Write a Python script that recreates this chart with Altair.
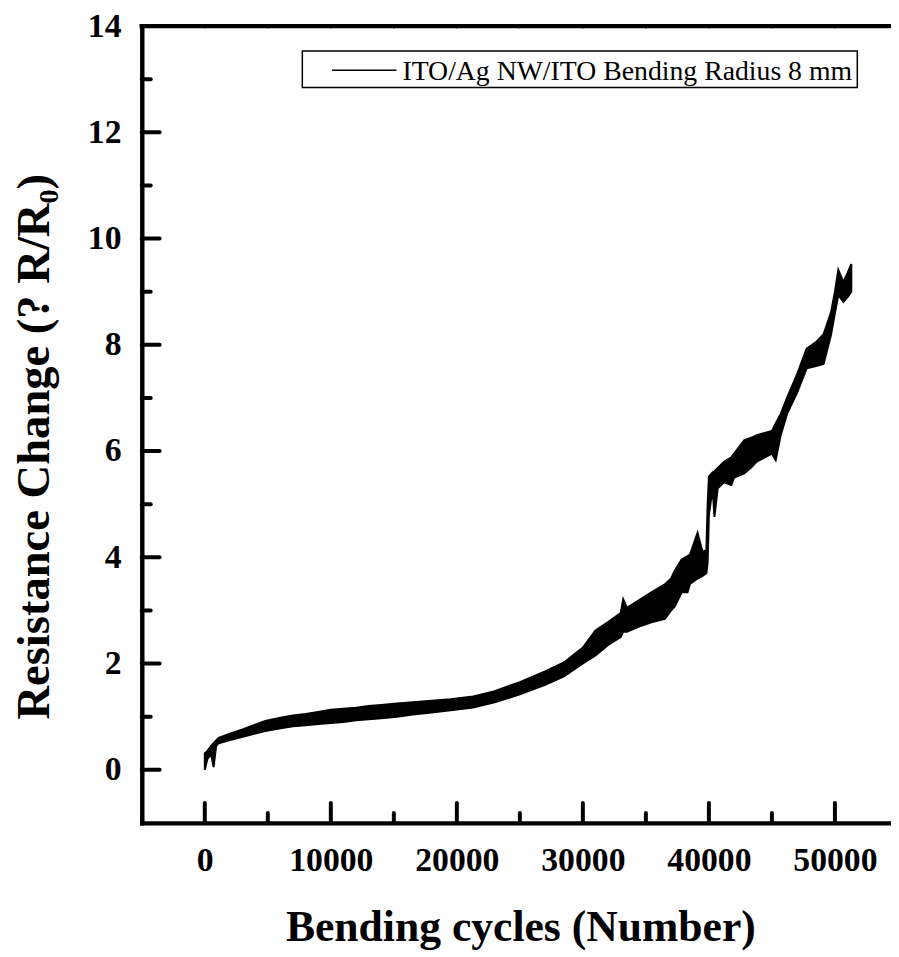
import altair as alt
import pandas as pd

# ---- data (upper / lower envelope of the noisy trace) ----
cycles = [0, 200, 500, 700, 900, 1100, 2000, 3000, 4000, 4800, 6000, 7000, 8000, 9000,
          10000, 11000, 12000, 13000, 14000, 15260, 16500, 18000, 19500, 21300, 23000,
          25000, 27000, 28500, 30000, 31000, 32000, 33000, 33200, 33500, 34500, 35500,
          36500, 37000, 37300, 37840, 38300, 38500, 39100, 39500, 39800, 39900, 40000,
          40300, 40440, 40700, 41200, 41780, 42000, 42800, 43350, 43800, 45000, 45300,
          45700, 46200, 47000, 47760, 48500, 49100, 49700, 50000, 50270, 50670, 51000,
          51300]
upper = [0.31, 0.35, 0.45, 0.50, 0.55, 0.60, 0.68, 0.76, 0.85, 0.92, 0.98, 1.02, 1.05, 1.09,
         1.13, 1.15, 1.17, 1.20, 1.22, 1.25, 1.27, 1.30, 1.33, 1.38, 1.48,
         1.65, 1.85, 2.02, 2.30, 2.62, 2.78, 2.95, 3.21, 3.05, 3.20, 3.35,
         3.49, 3.60, 3.75, 3.96, 4.02, 4.05, 4.46, 4.10, 4.14, 5.00, 5.52,
         5.60, 5.62, 5.68, 5.80, 5.88, 5.95, 6.20, 6.25, 6.30, 6.38, 6.52,
         6.70, 7.00, 7.45, 7.93, 8.05, 8.20, 8.62, 9.00, 9.41, 9.18, 9.35,
         9.52]
lower = [0.00, 0.20, 0.30, 0.05, 0.45, 0.50, 0.56, 0.62, 0.68, 0.73, 0.78, 0.82, 0.84, 0.86,
         0.88, 0.90, 0.93, 0.95, 0.97, 1.00, 1.04, 1.08, 1.12, 1.17, 1.27,
         1.42, 1.60, 1.76, 2.00, 2.15, 2.35, 2.50, 2.60, 2.60, 2.70, 2.78,
         2.84, 3.00, 3.08, 3.34, 3.34, 3.50, 3.60, 3.65, 3.70, 3.90, 4.80,
         5.30, 4.76, 5.30, 5.41, 5.36, 5.50, 5.58, 5.69, 5.80, 5.95, 5.83,
         6.30, 6.70, 7.10, 7.56, 7.60, 7.64, 8.20, 8.60, 8.94, 8.81, 8.90,
         9.00]

x_major = [0, 10000, 20000, 30000, 40000, 50000]
x_minor = [5000, 15000, 25000, 35000, 45000]
y_major = [0, 2, 4, 6, 8, 10, 12, 14]
y_minor = [1, 3, 5, 7, 9, 11, 13]
top_ticks = [0, 5000, 10000, 15000, 20000, 25000, 30000, 35000, 40000, 45000, 50000]
legend_label = ["ITO/Ag NW/ITO Bending Radius 8 mm"]

W, H = 756, 804
FONT = "Liberation Serif"
xs = alt.Scale(domain=[-5000, 54450], nice=False, zero=False)
ys = alt.Scale(domain=[-1, 14], nice=False, zero=False)

x_axis = alt.Axis(values=x_major, format="d", title="Bending cycles (Number)",
                  titleX=382, titleY=119, titleAngle=0, titleAlign="center",
                  titleBaseline="alphabetic", titleFontSize=44)
y_axis = alt.Axis(values=y_major, format="d", title="Resistance Change (? R/R\u2080)",
                  titleX=-94, titleY=424, titleAngle=270, titleAlign="center",
                  titleBaseline="alphabetic", titleFontSize=47)

df = pd.DataFrame({"cycles": cycles, "upper": upper, "lower": lower})

band = alt.Chart(df).mark_area(color="black", stroke="black", strokeWidth=2,
                               interpolate="linear").encode(
    x=alt.X("cycles:Q", scale=xs, axis=x_axis),
    y=alt.Y("upper:Q", scale=ys, axis=y_axis),
    y2="lower:Q",
)

def xticks(vals, length):
    return alt.Chart(pd.DataFrame({"cycles": vals})).mark_rule(
        color="black", strokeWidth=4, strokeCap="round").encode(
        x=alt.X("cycles:Q", scale=xs, axis=x_axis),
        y=alt.value(H), y2=alt.value(H - length))

def yticks(vals, length):
    return alt.Chart(pd.DataFrame({"upper": vals})).mark_rule(
        color="black", strokeWidth=4, strokeCap="round").encode(
        y=alt.Y("upper:Q", scale=ys, axis=y_axis),
        x=alt.value(0), x2=alt.value(length))

top_border = alt.Chart(pd.DataFrame({"v": [0]})).mark_rule(
    color="black", strokeWidth=4.5, strokeCap="square").encode(
    x=alt.value(0), x2=alt.value(W), y=alt.value(0))

top_small = alt.Chart(pd.DataFrame({"cycles": top_ticks})).mark_rule(
    color="#777777", strokeWidth=1).encode(
    x=alt.X("cycles:Q", scale=xs, axis=x_axis),
    y=alt.value(-2), y2=alt.value(3))

legend_df = pd.DataFrame({"label": legend_label})
legend_box = alt.Chart(legend_df).mark_rect(
    fill="white", stroke="black", strokeWidth=1.5).encode(
    x=alt.value(162), x2=alt.value(722), y=alt.value(25), y2=alt.value(62))
legend_line = alt.Chart(legend_df).mark_rule(color="black", strokeWidth=1.5).encode(
    x=alt.value(192), x2=alt.value(257), y=alt.value(44.5))
legend_text = alt.Chart(legend_df).mark_text(
    align="left", baseline="alphabetic", font=FONT, fontSize=28, color="black").encode(
    x=alt.value(263), y=alt.value(54.5), text="label:N")

chart = alt.layer(
    band,
    xticks(x_major, 20), xticks(x_minor, 10),
    yticks(y_major, 18), yticks(y_minor, 9),
    top_small, top_border,
    legend_box, legend_line, legend_text,
).properties(
    width=W, height=H,
    autosize=alt.AutoSizeParams(type="none"),
    padding={"left": 135, "top": 14, "right": 0, "bottom": 125},
).configure_view(stroke=None).configure_axis(
    labelFont=FONT, labelFontWeight="bold", labelFontSize=34, labelColor="black",
    titleFont=FONT, titleFontWeight="bold", titleColor="black",
    domainColor="black", domainWidth=4.5, domainCap="square",
    ticks=False, tickSize=0, grid=False, labelPadding=21,
    labelFlush=False, labelOverlap=False,
)

chart.save("out.html", embed_options={"renderer": "svg", "actions": False})
